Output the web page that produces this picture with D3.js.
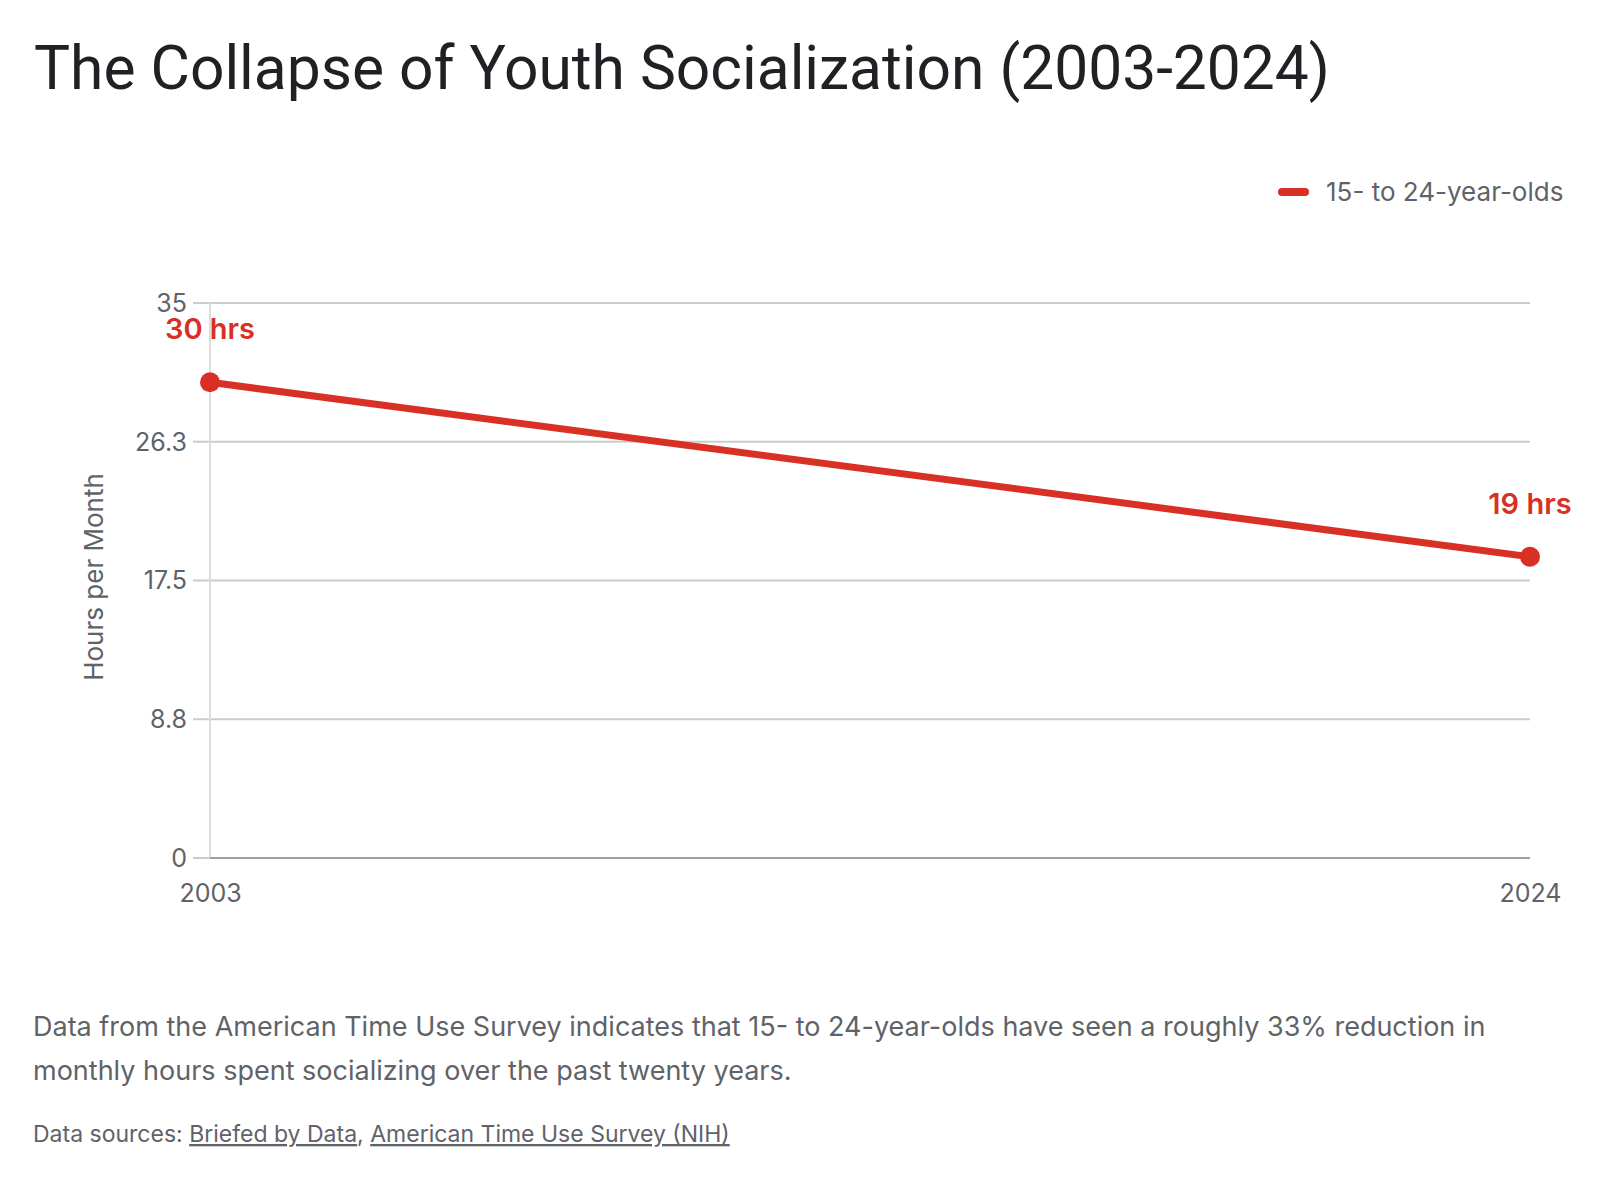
<!DOCTYPE html>
<html lang="en">
<head>
  <meta charset="UTF-8">
  <title>The Collapse of Youth Socialization (2003-2024)</title>
  <script src="https://d3js.org/d3.v7.min.js"></script>
  <style>
    body { margin: 0; background: #fff; }
    svg { display: block; font-family: Inter, "Open Sans", sans-serif; }
    .tick-label { font-size: 25px; fill: #5f6368; }
    .grid { stroke: #cccccc; stroke-width: 2px; }
  </style>
</head>
<body>
  <svg id="chart"></svg>
  <script>
    // chart data
    const years = [2003, 2024];
    const hours = [30, 19];
    const pointLabels = ["30 hrs", "19 hrs"];
    const seriesName = "15- to 24-year-olds";
    const yTicks = [0, 8.75, 17.5, 26.25, 35];
    const titleText = "The Collapse of Youth Socialization (2003-2024)";
    const yTitle = "Hours per Month";
    const descLines = [
      "Data from the American Time Use Survey indicates that 15- to 24-year-olds have seen a roughly 33% reduction in",
      "monthly hours spent socializing over the past twenty years."
    ];
    const sources = ["Briefed by Data", "American Time Use Survey (NIH)"];

    const width = 1600, height = 1200;
    const red = "#d93025";
    const svg = d3.select("#chart").attr("width", width).attr("height", height);

    const plot = { left: 210, right: 1530, top: 303, bottom: 858 };

    const x = d3.scaleLinear().domain(d3.extent(years)).range([plot.left, plot.right]);
    const y = d3.scaleLinear().domain([0, 35]).range([plot.bottom, plot.top]);

    // title
    svg.append("text")
      .attr("x", 34).attr("y", 89)
      .style("font-family", "Roboto, sans-serif")
      .style("font-size", "60.5px")
      .style("fill", "#202124")
      .text(titleText);

    // legend
    svg.append("line")
      .attr("x1", 1282).attr("x2", 1305)
      .attr("y1", 192).attr("y2", 192)
      .attr("stroke", red).attr("stroke-width", 8).attr("stroke-linecap", "round");
    svg.append("text")
      .attr("x", 1326).attr("y", 201)
      .style("font-size", "26px").style("fill", "#5f6368")
      .text(seriesName);

    // gridlines
    svg.append("g").selectAll("line")
      .data(yTicks.filter(d => d > 0))
      .join("line")
      .attr("class", "grid")
      .attr("x1", plot.left - 17).attr("x2", plot.right)
      .attr("y1", d => y(d)).attr("y2", d => y(d));

    // vertical axis line
    svg.append("line")
      .attr("x1", plot.left).attr("x2", plot.left)
      .attr("y1", plot.top).attr("y2", plot.bottom)
      .attr("stroke", "#dddddd").attr("stroke-width", 2);

    // baseline
    svg.append("line")
      .attr("x1", plot.left - 17).attr("x2", plot.left)
      .attr("y1", y(0)).attr("y2", y(0))
      .attr("stroke", "#cccccc").attr("stroke-width", 2);
    svg.append("line")
      .attr("x1", plot.left).attr("x2", plot.right)
      .attr("y1", y(0)).attr("y2", y(0))
      .attr("stroke", "#9e9e9e").attr("stroke-width", 2);

    // y axis labels
    const yAxis = svg.append("g")
      .attr("transform", `translate(${plot.left},0)`)
      .call(d3.axisLeft(y).tickValues(yTicks).tickSize(0).tickPadding(23)
        .tickFormat(d => Number.isInteger(d) ? d : d3.format(".1f")(d)));
    yAxis.select(".domain").remove();
    yAxis.selectAll("text").attr("class", "tick-label").attr("fill", null).attr("dy", "0.33em");
    yAxis.attr("font-family", null).attr("font-size", null);

    // x axis labels
    const xAxis = svg.append("g")
      .attr("transform", `translate(0,${plot.bottom})`)
      .call(d3.axisBottom(x).tickValues(years).tickSize(0).tickPadding(26).tickFormat(d3.format("d")));
    xAxis.select(".domain").remove();
    xAxis.selectAll("text").attr("class", "tick-label").attr("fill", null).attr("dy", "0.71em");
    xAxis.attr("font-family", null).attr("font-size", null);

    // y title
    svg.append("text")
      .attr("transform", "translate(103,577) rotate(-90)")
      .attr("text-anchor", "middle")
      .style("font-size", "26px").style("fill", "#5f6368")
      .text(yTitle);

    // series line
    const pts = years.map((yr, i) => ({ year: yr, value: hours[i], label: pointLabels[i] }));
    svg.append("path")
      .datum(pts)
      .attr("fill", "none")
      .attr("stroke", red)
      .attr("stroke-width", 7)
      .attr("d", d3.line().x(d => x(d.year)).y(d => y(d.value)));

    svg.append("g").selectAll("circle")
      .data(pts)
      .join("circle")
      .attr("cx", d => x(d.year)).attr("cy", d => y(d.value))
      .attr("r", 10).attr("fill", red);

    svg.append("g").selectAll("text")
      .data(pts)
      .join("text")
      .attr("x", d => x(d.year)).attr("y", d => y(d.value) - 43)
      .attr("text-anchor", "middle")
      .style("font-size", "29px").style("font-weight", 600).style("fill", red)
      .text(d => d.label);

    // description
    svg.append("g").selectAll("text")
      .data(descLines)
      .join("text")
      .attr("x", 33).attr("y", (d, i) => 1036 + i * 44)
      .style("font-size", "27px").style("fill", "#5f6368")
      .text(d => d);

    // sources
    const src = svg.append("text")
      .attr("x", 33).attr("y", 1142)
      .style("font-size", "23px").style("fill", "#5f6368");
    src.append("tspan").text("Data sources: ");
    src.append("tspan").style("text-decoration", "underline").text(sources[0]);
    src.append("tspan").text(", ");
    src.append("tspan").style("text-decoration", "underline").text(sources[1]);
  </script>
</body>
</html>
